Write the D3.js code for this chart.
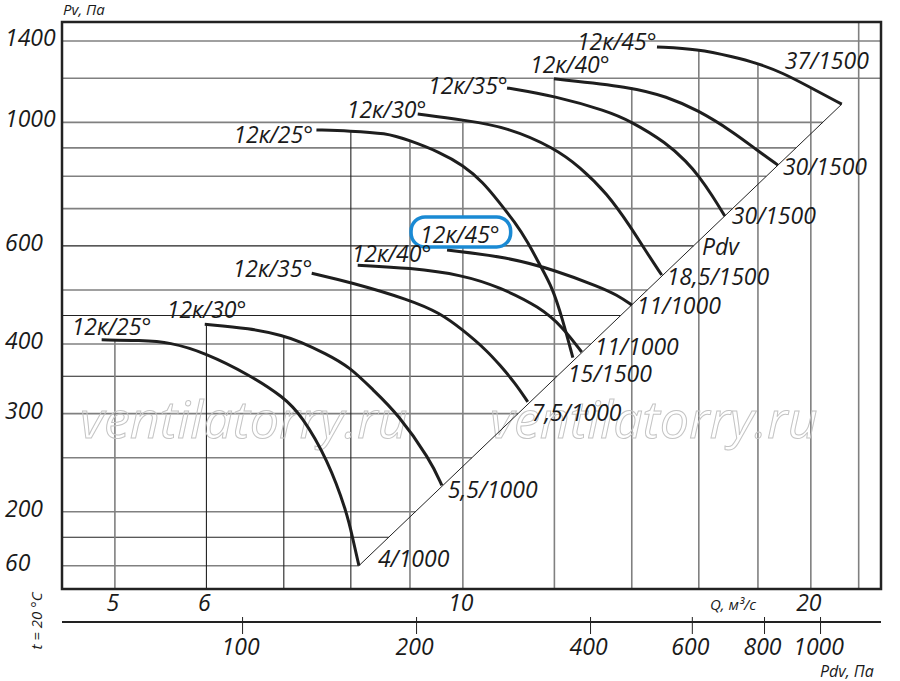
<!DOCTYPE html>
<html>
<head>
<meta charset="utf-8">
<script src="https://cdn.jsdelivr.net/npm/d3@7"></script>
<style>
    body { margin: 0; background: #fff; }
    text { font-family: "Open Sans", sans-serif; font-style: italic; fill: #1a1a1a; }
</style>
</head>
<body>
<div id="chart"></div>
<script>
// Fan curves, Q in m3/s, Pv in Pa
var c25lo = [[4.87,407],[5.26,406],[5.58,403],[5.98,386],[6.54,352],[7.0,321],[7.25,298],[7.64,248],[7.94,199],[8.03,179],[8.13,160]];
var c30lo = [[5.98,434],[6.54,427],[7.0,414],[7.23,404],[7.6,385],[7.98,364],[8.36,331],[8.77,301],[9.37,248],[9.59,223]];
var c35lo = [[7.40,536],[7.98,517],[9.0,480],[9.55,455],[10.0,424],[10.48,390],[10.76,367],[11.09,341],[11.38,315]];
var c40lo = [[8.11,554],[9.0,548],[10.0,532],[10.76,506],[11.66,466],[12.2,429],[12.67,387]];
var c45lo = [[9.69,590],[10.92,573],[12.01,543],[13.14,506],[13.59,490],[14.0,470]];
var c25hi = [[7.47,969],[7.98,965],[8.58,957],[8.98,929],[9.55,884],[10.0,838],[10.41,781],[10.76,717],[11.09,662],[11.38,610],[11.66,554],[11.96,504],[12.2,442],[12.45,378]];
var c30hi = [[9.14,1035],[10.0,1010],[10.92,981],[12.01,899],[12.62,832],[13.32,747],[13.97,649],[14.43,583],[14.86,532]];
var c35hi = [[10.92,1153],[12.01,1115],[13.32,1048],[13.97,1005],[15.01,918],[15.62,849],[16.0,801],[16.42,741],[16.85,679]];
var c40hi = [[11.99,1197],[13.97,1158],[15.01,1112],[15.97,1052],[17.12,962],[17.96,892],[18.73,838]];
var c45hi = [[14.72,1366],[15.97,1354],[17.12,1312],[17.96,1278],[18.91,1227],[19.92,1159],[21.27,1078]];

var curves = [c25lo, c30lo, c35lo, c40lo, c45lo, c25hi, c30hi, c35hi, c40hi, c45hi];
var names  = ["12к/25°","12к/30°","12к/35°","12к/40°","12к/45°","12к/25°","12к/30°","12к/35°","12к/40°","12к/45°"];
var motors = ["4/1000","5,5/1000","7,5/1000","11/1000","11/1000","15/1500","18,5/1500","30/1500","30/1500","37/1500"];

// dynamic pressure line (ends of the curves lie on it)
var pdvLine = [[8.13,160],[21.27,1078]];
var pdvPerQ2 = 2.41;   // Pdv = 2.41 * Q^2, from the lower scale

// grid and ticks
var gridQ = [5,6,7,8,9,10,12,14,16,18,20,22];
var darkQ = [6,7,8];
var gridPv = [1400,1200,1000,900,800,700,600,500,450,400,350,300,250,200,180,160];
var darkPv = [600,450,350,180];
var qTicks = [5,6,10,20];
var pvTicks = [1400,1000,600,400,300,200,160];
var pvTickLabels = ["1400","1000","600","400","300","200","60"];
var pdvTicks = [100,200,400,600,800,1000];

// label placement (offsets from curve start / end, px)
var nameOffset  = [[-30,-5],[-38,-6],[-79,4],[-6,-3],[-27,-7],[-83,13],[-71,4],[-79,6],[-24,-6],[-80,3]];
var motorOffset = [[19,1],[6,13],[4,19],[13,3],[5,9],[-5,24],[5,10],[7,8],[5,10],[-57,-35]];

function chart() {
    var width = 900, height = 681;
    var left = 62, right = 881, top = 22, bottom = 589;

    var svg = d3.select("#chart").append("svg")
        .attr("width", width)
        .attr("height", height);

    var x = d3.scaleLog().domain([4.5, 23]).range([left, right]);
    var y = d3.scaleLog().domain([145.3, 1514]).range([bottom, top]);
    var qd = x.domain();
    var pdv = d3.scaleLog()
        .domain([pdvPerQ2 * qd[0] * qd[0], pdvPerQ2 * qd[1] * qd[1]])
        .range([left, right]);

    // Pv of a curve at Q (log-log interpolation), null outside
    function pvAt(pts, q) {
        for (var i = 0; i < pts.length - 1; i++) {
            var a = pts[i], b = pts[i + 1];
            if (q >= a[0] && q <= b[0]) {
                var t = (Math.log(q) - Math.log(a[0])) / (Math.log(b[0]) - Math.log(a[0]));
                return Math.exp(Math.log(a[1]) + t * (Math.log(b[1]) - Math.log(a[1])));
            }
        }
        return null;
    }
    // x where a horizontal line meets the Pdv line
    function xOnPdv(pv) {
        var a = pdvLine[0], b = pdvLine[1];
        if (pv >= b[1]) return right;
        var t = (Math.log(pv) - Math.log(a[1])) / (Math.log(b[1]) - Math.log(a[1]));
        return x(Math.exp(Math.log(a[0]) + t * (Math.log(b[0]) - Math.log(a[0]))));
    }

    var grid = svg.append("g");
    grid.selectAll("line.h")
        .data(gridPv)
        .enter()
        .append("line")
        .attr("x1", left)
        .attr("x2", function(d) { return xOnPdv(d); })
        .attr("y1", function(d) { return y(d); })
        .attr("y2", function(d) { return y(d); })
        .attr("stroke", function(d) { return darkPv.indexOf(d) >= 0 ? "#222" : "#808080"; })
        .attr("stroke-width", function(d) { return darkPv.indexOf(d) >= 0 ? 1.1 : 1.6; });

    grid.selectAll("line.v")
        .data(gridQ)
        .enter()
        .append("line")
        .attr("x1", function(d) { return x(d); })
        .attr("x2", function(d) { return x(d); })
        .attr("y1", function(d) {
            var m = null;
            curves.forEach(function(c) {
                var v = pvAt(c, d);
                if (v !== null && (m === null || v > m)) m = v;
            });
            return m === null ? top : y(m);
        })
        .attr("y2", bottom)
        .attr("stroke", function(d) { return darkQ.indexOf(d) >= 0 ? "#222" : "#808080"; })
        .attr("stroke-width", function(d) { return darkQ.indexOf(d) >= 0 ? 1.1 : 1.6; });

    // watermark
    [80, 490].forEach(function(wx) {
        svg.append("text")
            .attr("x", wx)
            .attr("y", 438)
            .style("font-size", "52px")
            .style("fill", "none")
            .attr("stroke", "#c4c4c4")
            .attr("stroke-width", 1)
            .text("ventilatorry.ru");
    });

    // Pdv line
    svg.append("line")
        .attr("x1", x(pdvLine[0][0])).attr("y1", y(pdvLine[0][1]))
        .attr("x2", x(pdvLine[1][0])).attr("y2", y(pdvLine[1][1]))
        .attr("stroke", "#222")
        .attr("stroke-width", 1);

    var line = d3.line()
        .x(function(d) { return x(d[0]); })
        .y(function(d) { return y(d[1]); })
        .curve(d3.curveBasis);

    svg.append("g").selectAll("path")
        .data(curves)
        .enter()
        .append("path")
        .attr("d", line)
        .attr("fill", "none")
        .attr("stroke", "#1e1e1e")
        .attr("stroke-width", 3);

    // frame
    svg.append("rect")
        .attr("x", left).attr("y", top)
        .attr("width", right - left).attr("height", bottom - top)
        .attr("fill", "none")
        .attr("stroke", "#222")
        .attr("stroke-width", 2.5);

    // curve labels
    var labels = svg.append("g").style("font-size", "23px");
    curves.forEach(function(c, i) {
        var s = c[0], e = c[c.length - 1];
        var t = labels.append("text")
            .attr("x", x(s[0]) + nameOffset[i][0])
            .attr("y", y(s[1]) + nameOffset[i][1])
            .text(names[i]);
        if (i === 4) {
            var bb = t.node().getBBox();
            labels.insert("rect", "text")
                .attr("x", bb.x - 9).attr("y", bb.y - 1)
                .attr("width", bb.width + 20).attr("height", bb.height - 2)
                .attr("rx", 14)
                .attr("fill", "#fff")
                .attr("stroke", "#1a8ad4")
                .attr("stroke-width", 3.5);
        }
        labels.append("text")
            .attr("x", x(e[0]) + motorOffset[i][0])
            .attr("y", y(e[1]) + motorOffset[i][1])
            .text(motors[i]);
    });
    labels.append("text")
        .attr("x", 702).attr("y", 255)
        .text("Pdv");

    // Pv axis labels
    svg.append("g").selectAll("text")
        .data(pvTicks)
        .enter()
        .append("text")
        .attr("x", 5)
        .attr("y", function(d) { return y(d) + 5; })
        .style("font-size", "23px")
        .text(function(d, i) { return pvTickLabels[i]; });

    svg.append("text")
        .attr("x", 63).attr("y", 15)
        .style("font-size", "15px")
        .text("Pv, Па");

    // Q axis labels
    svg.append("g").selectAll("text")
        .data(qTicks)
        .enter()
        .append("text")
        .attr("x", function(d) { return x(d) - 2; })
        .attr("y", 611)
        .attr("text-anchor", "middle")
        .style("font-size", "23px")
        .text(function(d) { return d; });

    svg.append("text")
        .attr("x", 710).attr("y", 610)
        .style("font-size", "15px")
        .text("Q, м³/с");

    // Pdv axis
    var pdvAxis = d3.axisBottom(pdv)
        .tickValues(pdvTicks)
        .tickFormat(d3.format("d"))
        .tickSizeInner(12)
        .tickSizeOuter(0)
        .tickPadding(14);

    var ga = svg.append("g")
        .attr("transform", "translate(0," + 622 + ")")
        .call(pdvAxis);
    ga.select(".domain")
        .attr("d", "M" + left + ",0H" + right)
        .attr("stroke", "#222")
        .attr("stroke-width", 2.2);
    ga.selectAll(".tick line")
        .attr("y1", -5)
        .attr("stroke", "#222");
    ga.selectAll(".tick text")
        .attr("x", -2)
        .attr("dy", "0.3em")
        .attr("fill", null)
        .style("font-size", "23px")
        .style("font-family", "'Open Sans', sans-serif");

    svg.append("text")
        .attr("x", 820).attr("y", 677)
        .style("font-size", "16px")
        .text("Pdv, Па");

    svg.append("text")
        .attr("transform", "translate(42,621) rotate(-90)")
        .attr("text-anchor", "middle")
        .style("font-size", "15px")
        .text("t = 20 °C");
}

window.onload = chart;
</script>
</body>
</html>
